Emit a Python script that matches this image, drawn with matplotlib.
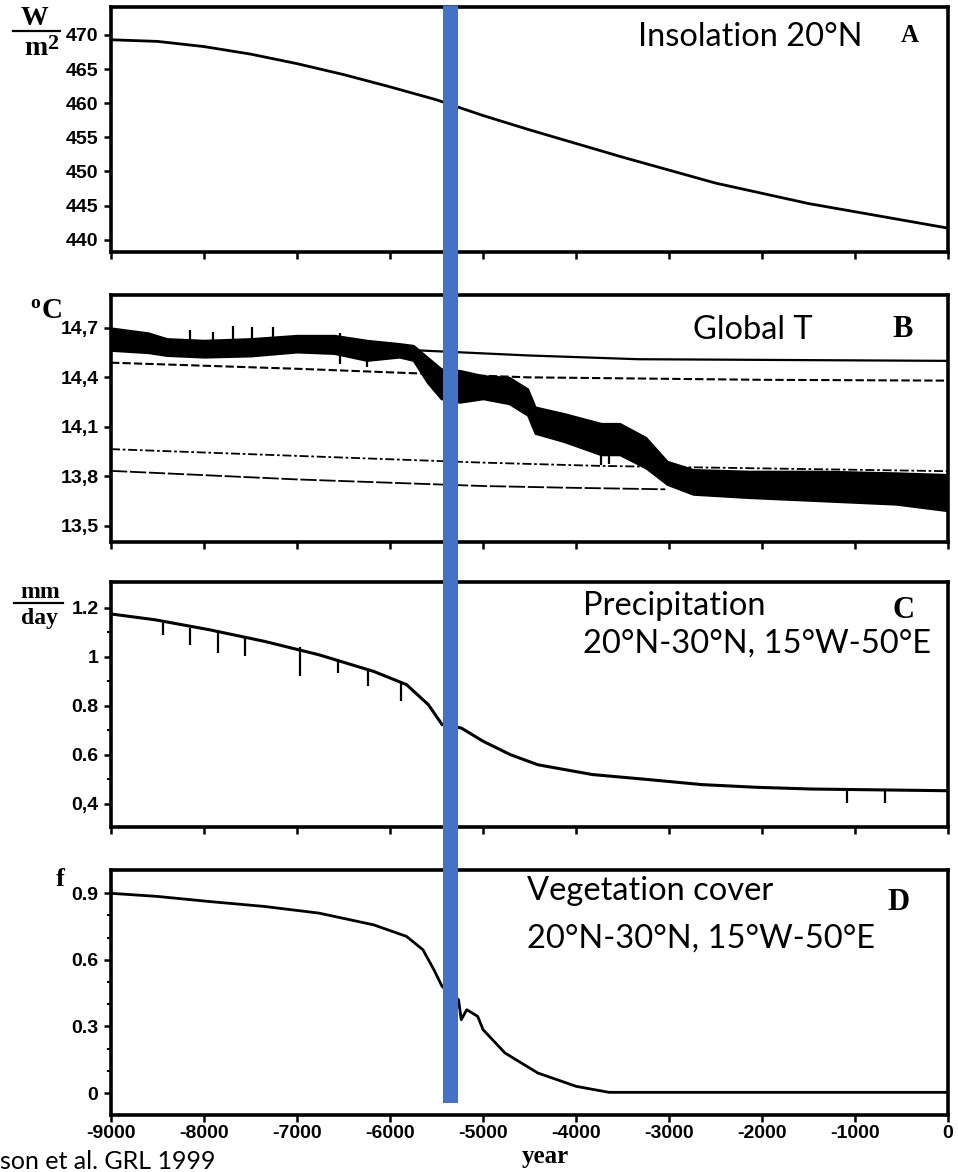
import numpy as np
import matplotlib
matplotlib.use("Agg")
import matplotlib.pyplot as plt
from matplotlib.lines import Line2D

# ---- data ----
# A: insolation 20N (W/m2)
years_a = [-9000, -8500, -8000, -7500, -7000, -6500, -6000, -5500, -5000,
           -4500, -4000, -3500, -3000, -2500, -2000, -1500, -1000, -500, 0]
insol = [469.3, 469.06, 468.3, 467.2, 465.8, 464.2, 462.4, 460.5, 458.2,
         456.1, 454.1, 452.1, 450.2, 448.3, 446.8, 445.3, 444.1, 442.9, 441.7]

# B: global T, noisy coupled run as upper / lower envelope
years_b = [-9000, -8600, -8400, -8000, -7500, -7000, -6600, -6250, -5900, -5750,
           -5600, -5450, -5250, -5000, -4720, -4520, -4440, -4130, -3730, -3530,
           -3250, -3020, -2740, -2140, -1350, -560, 0]
temp_hi = [14.70, 14.67, 14.635, 14.625, 14.635, 14.655, 14.655, 14.625, 14.605, 14.594,
           14.523, 14.452, 14.442, 14.41, 14.40, 14.33, 14.22, 14.18, 14.12, 14.12,
           14.035, 13.89, 13.84, 13.83, 13.83, 13.82, 13.81]
temp_lo = [14.564, 14.55, 14.533, 14.523, 14.53, 14.554, 14.545, 14.503, 14.523, 14.503,
           14.37, 14.27, 14.249, 14.27, 14.24, 14.17, 14.06, 14.01, 13.93, 13.93,
           13.85, 13.75, 13.69, 13.67, 13.65, 13.63, 13.59]
spike_b_years = [-8150, -7900, -7690, -7480, -7260, -6540, -6540, -6250, -3730, -3650]
spike_b_from = [14.62, 14.62, 14.62, 14.62, 14.62, 14.62, 14.55, 14.50, 13.93, 13.93]
spike_b_to = [14.686, 14.676, 14.712, 14.706, 14.706, 14.67, 14.48, 14.46, 13.87, 13.875]

# B: thin reference runs
years_b1 = [-6000, -5710, -4520, -3330, 0]
temp_b1 = [14.58, 14.564, 14.533, 14.51, 14.50]
years_b2 = [-9000, -7000, -5890, -4520, -2000, 0]
temp_b2 = [14.489, 14.452, 14.428, 14.40, 14.385, 14.38]
years_b3 = [-9000, -7000, -5000, -3730, 0]
temp_b3 = [13.964, 13.923, 13.882, 13.862, 13.83]
years_b4 = [-9000, -7000, -5000, -4130, -3040]
temp_b4 = [13.832, 13.78, 13.74, 13.73, 13.72]

# C: precipitation (mm/day)
years_c = [-9000, -8530, -7941, -7353, -6765, -6175, -5822, -5587, -5440, -5234,
           -4999, -4704, -4410, -3822, -3233, -2644, -2056, -1468, 0]
precip = [1.1755, 1.152, 1.111, 1.064, 1.009, 0.941, 0.887, 0.805, 0.724, 0.71,
          0.656, 0.601, 0.560, 0.520, 0.500, 0.479, 0.468, 0.461, 0.454]
spike_c_years = [-8442, -8147, -7853, -7559, -6970, -6559, -6234, -5882, -1085, -674]
spike_c_top = [1.14, 1.12, 1.105, 1.08, 1.04, 0.99, 0.95, 0.895, 0.457, 0.456]
spike_c_bot = [1.091, 1.050, 1.016, 1.002, 0.921, 0.935, 0.880, 0.819, 0.404, 0.404]

# D: vegetation cover fraction
years_d = [-9000, -8500, -7941, -7353, -6765, -6175, -5822, -5646, -5528, -5440,
           -5263, -5234, -5175, -5057, -4999, -4763, -4410, -3998, -3645, 0]
veg = [0.899, 0.885, 0.862, 0.840, 0.810, 0.757, 0.705, 0.645, 0.555, 0.48,
       0.42, 0.33, 0.375, 0.345, 0.285, 0.18, 0.09, 0.03, 0.003, 0.003]

marker_year = -5360

xticks = [-9000, -8000, -7000, -6000, -5000, -4000, -3000, -2000, -1000, 0]
xtick_labels = ["-9000", "-8000", "-7000", "-6000", "-5000", "-4000", "-3000", "-2000", "-1000", "0"]
yticks_a = [470, 465, 460, 455, 450, 445, 440]
yticks_b = [14.7, 14.4, 14.1, 13.8, 13.5]
ylabels_b = ["14,7", "14,4", "14,1", "13,8", "13,5"]
yticks_c = [1.2, 1.0, 0.8, 0.6, 0.4]
ylabels_c = ["1.2", "1", "0.8", "0.6", "0,4"]
yticks_d = [0.9, 0.6, 0.3, 0.0]
ylabels_d = ["0.9", "0.6", "0.3", "0"]

# ---- figure ----
W, H = 958, 1172
fig = plt.figure(figsize=(W / 100, H / 100), dpi=100)
fig.patch.set_facecolor("white")

TICKFONT = dict(family="Liberation Sans", weight="bold", size=14)
NOTE = dict(family="Lato", size=23.5)
SERIF = dict(family="Liberation Serif", weight="bold")


def px_axes(left, top, right, bottom):
    return fig.add_axes([left / W, 1 - bottom / H, (right - left) / W, (bottom - top) / H])


def ftext(x, y, s, **kw):
    fig.text(x / W, 1 - y / H, s, **kw)


def style(ax, ylim, yticks, ylabels, minor=None, show_x=False):
    ax.set_xlim(-9000, 0)
    ax.set_ylim(*ylim)
    for sp in ax.spines.values():
        sp.set_linewidth(2.6)
    ax.set_xticks(xticks)
    ax.set_xticklabels(xtick_labels if show_x else [])
    ax.set_yticks(yticks)
    ax.set_yticklabels(ylabels)
    if minor is not None:
        ax.set_yticks(minor, minor=True)
    ax.tick_params(axis="both", which="major", direction="out", length=5, width=1.8,
                   pad=4, top=False, right=False)
    ax.tick_params(axis="y", which="minor", direction="out", length=3, width=1.5)
    ax.tick_params(axis="x", pad=2)
    for lab in ax.get_yticklabels() + ax.get_xticklabels():
        lab.set_fontproperties(matplotlib.font_manager.FontProperties(**TICKFONT))


# A
ax_a = px_axes(111, 7, 948, 252)
ax_a.plot(years_a, insol, color="black", lw=2.0)
style(ax_a, (438.2, 474.1), yticks_a, [str(v) for v in yticks_a])

# B
ax_b = px_axes(111, 295, 948, 542)
ax_b.plot(years_b1, temp_b1, color="black", lw=1.6)
ax_b.plot(years_b2, temp_b2, color="black", lw=1.5, linestyle=(0, (4, 1.5)))
ax_b.plot(years_b3, temp_b3, color="black", lw=1.3, linestyle=(0, (5, 1.5, 1.5, 1.5)))
ax_b.plot(years_b4, temp_b4, color="black", lw=1.3, linestyle=(0, (9, 1.5)))
ax_b.fill_between(years_b, temp_lo, temp_hi, color="black", lw=1.5, edgecolor="black")
ax_b.vlines(spike_b_years, spike_b_from, spike_b_to, color="black", lw=1.6)
style(ax_b, (13.4, 14.9), yticks_b, ylabels_b)

# C
ax_c = px_axes(111, 582, 948, 827)
ax_c.plot(years_c, precip, color="black", lw=2.2)
ax_c.vlines(spike_c_years, spike_c_bot, spike_c_top, color="black", lw=1.6)
style(ax_c, (0.306, 1.306), yticks_c, ylabels_c,
      minor=[0.5, 0.7, 0.9, 1.1])

# D
ax_d = px_axes(111, 870, 948, 1115)
ax_d.plot(years_d, veg, color="black", lw=2.0)
style(ax_d, (-0.099, 1.004), yticks_d, ylabels_d,
      minor=[0.1, 0.2, 0.4, 0.5, 0.7, 0.8], show_x=True)

# blue marker bar across all panels
ax_bar = px_axes(111, 5, 948, 1103)
ax_bar.set_xlim(-9000, 0)
ax_bar.set_ylim(0, 1)
ax_bar.axis("off")
ax_bar.patch.set_alpha(0)
ax_bar.axvline(marker_year, color="#4472C4", lw=10.8, solid_capstyle="butt")

# annotations
ftext(638, 46, "Insolation 20°N", va="baseline", **NOTE)
ftext(693, 339, "Global T", va="baseline", **NOTE)
ftext(583, 615, "Precipitation", va="baseline", **NOTE)
ftext(583, 653, "20°N-30°N, 15°W-50°E", va="baseline", **NOTE)
ftext(527, 900, "Vegetation cover", va="baseline", **NOTE)
ftext(527, 948, "20°N-30°N, 15°W-50°E", va="baseline", **NOTE)

ftext(910, 42, "A", ha="center", va="baseline", size=18, **SERIF)
ftext(903, 337, "B", ha="center", va="baseline", size=22, **SERIF)
ftext(903, 618, "C", ha="center", va="baseline", size=22, **SERIF)
ftext(899, 910, "D", ha="center", va="baseline", size=22, **SERIF)

# unit labels
ftext(34, 25, "W", ha="center", va="baseline", size=20, **SERIF)
fig.add_artist(Line2D([13 / W, 60 / W], [1 - 31 / H, 1 - 31 / H], color="black", lw=1.6))
ftext(36, 55, "m", ha="center", va="baseline", size=20, **SERIF)
ftext(53, 49, "2", ha="center", va="baseline", size=16, **SERIF)

ftext(35, 308, "o", ha="center", va="baseline", size=14, **SERIF)
ftext(52, 318, "C", ha="center", va="baseline", size=21, **SERIF)

ftext(40, 598, "mm", ha="center", va="baseline", size=17, **SERIF)
fig.add_artist(Line2D([14 / W, 63 / W], [1 - 603 / H, 1 - 603 / H], color="black", lw=1.6))
ftext(39, 624, "day", ha="center", va="baseline", size=17, **SERIF)

ftext(60, 886, "f", ha="center", va="baseline", size=19, **SERIF)

ftext(545, 1163, "year", ha="center", va="baseline", size=18, **SERIF)
ftext(0, 1150, "son et al. GRL 1999", ha="left", va="top", family="Lato", size=18)

fig.savefig("out.png", dpi=100, facecolor="white")
